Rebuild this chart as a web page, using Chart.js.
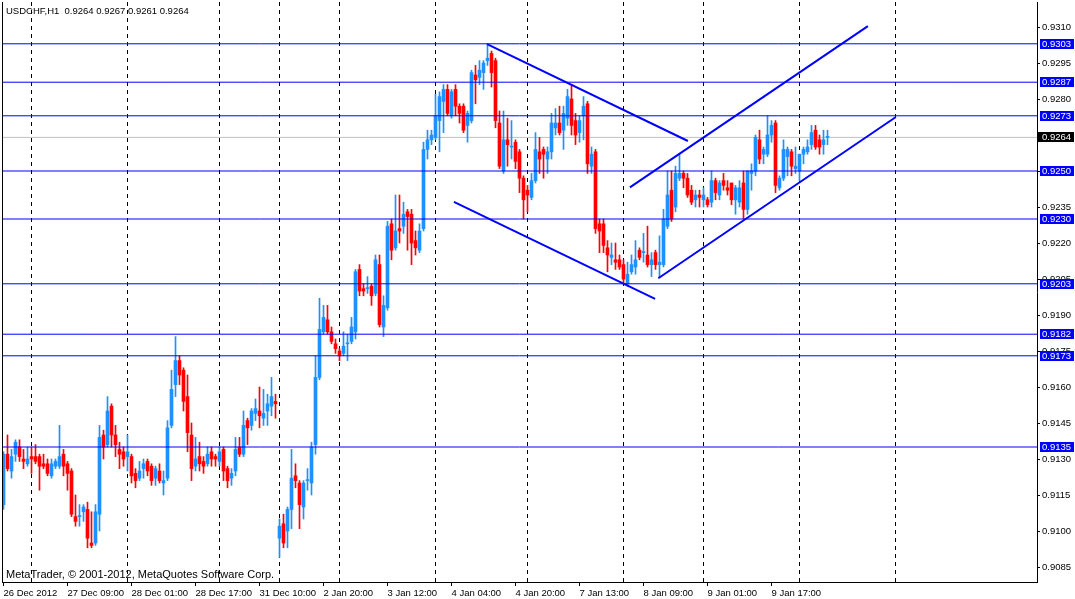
<!DOCTYPE html>
<html><head><meta charset="utf-8">
<script src="https://cdn.jsdelivr.net/npm/chart.js@4.4.1/dist/chart.umd.min.js"></script>
<style>html,body{margin:0;padding:0;background:#fff;overflow:hidden}canvas{display:block}</style>
</head><body>
<canvas id="c" width="1075" height="599"></canvas>
<script>
const symbol = 'USDCHF,H1';
const watermark = 'MetaTrader, \u00A9 2001-2012, MetaQuotes Software Corp.';

const opens = [0.9111,0.9132,0.9125,0.9132,0.9135,0.9130,0.9128,0.9131,0.9131,0.9131,
0.9128,0.9128,0.9123,0.9127,0.9127,0.9132,0.9128,0.9125,0.9106,0.9106,
0.9108,0.9109,0.9095,0.9095,0.9107,0.9140,0.9136,0.9152,0.9140,0.9134,
0.9133,0.9131,0.9131,0.9124,0.9122,0.9126,0.9129,0.9127,0.9122,0.9125,
0.9120,0.9122,0.9144,0.9161,0.9171,0.9167,0.9156,0.9140,0.9127,0.9131,
0.9129,0.9128,0.9133,0.9131,0.9129,0.9134,0.9126,0.9122,0.9125,0.9135,
0.9132,0.9146,0.9144,0.9149,0.9150,0.9147,0.9150,0.9152,0.9154,0.9097,
0.9103,0.9100,0.9109,0.9123,0.9120,0.9110,0.9121,0.9120,0.9136,0.9164,
0.9183,0.9188,0.9183,0.9178,0.9175,0.9174,0.9178,0.9179,0.9183,0.9209,
0.9201,0.9201,0.9202,0.9199,0.9211,0.9185,0.9193,0.9228,0.9218,0.9226,
0.9227,0.9233,0.9232,0.9221,0.9217,0.9226,0.9259,0.9263,0.9264,0.9271,
0.9279,0.9284,0.9273,0.9284,0.9277,0.9277,0.9269,0.9271,0.9290,0.9289,
0.9291,0.9296,0.9299,0.9296,0.9270,0.9250,0.9263,0.9260,0.9262,0.9258,
0.9247,0.9242,0.9239,0.9246,0.9258,0.9259,0.9255,0.9258,0.9268,0.9270,
0.9267,0.9272,0.9280,0.9271,0.9266,0.9273,0.9278,0.9252,0.9258,0.9228,
0.9228,0.9218,0.9214,0.9213,0.9213,0.9211,0.9203,0.9208,0.9210,0.9217,
0.9216,0.9215,0.9211,0.9216,0.9211,0.9211,0.9227,0.9242,0.9235,0.9247,
0.9249,0.9247,0.9242,0.9238,0.9240,0.9238,0.9238,0.9237,0.9246,0.9240,
0.9246,0.9243,0.9245,0.9238,0.9237,0.9245,0.9234,0.9249,0.9250,0.9263,
0.9257,0.9257,0.9265,0.9270,0.9243,0.9247,0.9256,0.9258,0.9251,0.9250,
0.9257,0.9258,0.9261,0.9267,0.9263,0.9261,0.9264];

const highs = [0.9133,0.9140,0.9134,0.9138,0.9138,0.9134,0.9135,0.9135,0.9136,0.9132,
0.9132,0.9130,0.9130,0.9130,0.9144,0.9134,0.9129,0.9126,0.9115,0.9111,
0.9111,0.9112,0.9108,0.9111,0.9144,0.9142,0.9156,0.9153,0.9144,0.9137,
0.9135,0.9140,0.9132,0.9126,0.9129,0.9130,0.9130,0.9128,0.9127,0.9128,
0.9125,0.9146,0.9167,0.9181,0.9173,0.9168,0.9165,0.9145,0.9139,0.9137,
0.9131,0.9135,0.9135,0.9132,0.9135,0.9135,0.9127,0.9126,0.9139,0.9139,
0.9150,0.9147,0.9151,0.9155,0.9160,0.9159,0.9157,0.9164,0.9157,0.9105,
0.9107,0.9110,0.9134,0.9128,0.9121,0.9121,0.9126,0.9137,0.9173,0.9197,
0.9194,0.9194,0.9185,0.9180,0.9176,0.9183,0.9182,0.9189,0.9209,0.9211,
0.9203,0.9206,0.9203,0.9215,0.9215,0.9198,0.9229,0.9230,0.9240,0.9240,
0.9237,0.9234,0.9234,0.9225,0.9228,0.9262,0.9267,0.9267,0.9282,0.9283,
0.9286,0.9286,0.9284,0.9286,0.9278,0.9278,0.9275,0.9292,0.9294,0.9296,
0.9296,0.9303,0.9300,0.9297,0.9275,0.9275,0.9272,0.9271,0.9263,0.9259,
0.9248,0.9244,0.9249,0.9266,0.9264,0.9260,0.9260,0.9274,0.9276,0.9277,
0.9277,0.9284,0.9286,0.9274,0.9273,0.9281,0.9279,0.9260,0.9259,0.9230,
0.9230,0.9221,0.9220,0.9220,0.9215,0.9213,0.9212,0.9215,0.9221,0.9218,
0.9224,0.9227,0.9216,0.9217,0.9223,0.9234,0.9250,0.9250,0.9252,0.9257,
0.9250,0.9249,0.9244,0.9242,0.9242,0.9243,0.9239,0.9250,0.9247,0.9246,
0.9249,0.9246,0.9245,0.9244,0.9246,0.9250,0.9250,0.9253,0.9265,0.9267,
0.9260,0.9273,0.9271,0.9271,0.9248,0.9263,0.9260,0.9259,0.9260,0.9257,
0.9260,0.9263,0.9269,0.9269,0.9265,0.9267,0.9267];

const lows = [0.9109,0.9125,0.9122,0.9129,0.9129,0.9126,0.9127,0.9124,0.9128,0.9117,
0.9126,0.9123,0.9122,0.9126,0.9126,0.9123,0.9117,0.9106,0.9102,0.9102,
0.9104,0.9093,0.9093,0.9094,0.9100,0.9130,0.9135,0.9135,0.9131,0.9126,
0.9127,0.9125,0.9120,0.9118,0.9121,0.9122,0.9123,0.9119,0.9119,0.9120,
0.9115,0.9121,0.9143,0.9156,0.9161,0.9150,0.9133,0.9121,0.9125,0.9125,
0.9124,0.9127,0.9127,0.9127,0.9127,0.9121,0.9118,0.9119,0.9123,0.9131,
0.9131,0.9136,0.9142,0.9146,0.9143,0.9144,0.9144,0.9148,0.9147,0.9089,
0.9093,0.9093,0.9101,0.9118,0.9101,0.9105,0.9117,0.9115,0.9132,0.9163,
0.9182,0.9182,0.9178,0.9174,0.9171,0.9173,0.9171,0.9178,0.9180,0.9198,
0.9198,0.9199,0.9194,0.9198,0.9185,0.9181,0.9192,0.9213,0.9217,0.9220,
0.9224,0.9217,0.9211,0.9215,0.9216,0.9225,0.9255,0.9261,0.9263,0.9258,
0.9266,0.9273,0.9272,0.9273,0.9270,0.9266,0.9262,0.9270,0.9278,0.9286,
0.9284,0.9294,0.9285,0.9268,0.9251,0.9249,0.9252,0.9255,0.9251,0.9241,
0.9230,0.9233,0.9238,0.9245,0.9249,0.9247,0.9249,0.9255,0.9265,0.9265,
0.9259,0.9269,0.9265,0.9261,0.9262,0.9263,0.9249,0.9249,0.9224,0.9216,
0.9216,0.9208,0.9211,0.9209,0.9209,0.9203,0.9202,0.9207,0.9207,0.9213,
0.9212,0.9210,0.9206,0.9209,0.9206,0.9210,0.9226,0.9229,0.9233,0.9246,
0.9243,0.9239,0.9236,0.9235,0.9235,0.9235,0.9235,0.9235,0.9238,0.9238,
0.9242,0.9240,0.9236,0.9232,0.9235,0.9230,0.9232,0.9242,0.9248,0.9253,
0.9253,0.9256,0.9262,0.9241,0.9242,0.9246,0.9248,0.9248,0.9249,0.9246,
0.9253,0.9257,0.9259,0.9259,0.9257,0.9257,0.9261];

const closes = [0.9132,0.9126,0.9131,0.9137,0.9131,0.9129,0.9130,0.9130,0.9129,0.9127,
0.9127,0.9124,0.9128,0.9129,0.9131,0.9127,0.9124,0.9107,0.9104,0.9106,
0.9110,0.9097,0.9094,0.9108,0.9139,0.9135,0.9150,0.9140,0.9136,0.9132,
0.9130,0.9133,0.9123,0.9121,0.9125,0.9128,0.9125,0.9121,0.9126,0.9121,
0.9121,0.9143,0.9159,0.9171,0.9165,0.9154,0.9141,0.9126,0.9130,0.9128,
0.9127,0.9132,0.9130,0.9130,0.9133,0.9125,0.9121,0.9124,0.9134,0.9132,
0.9144,0.9143,0.9150,0.9151,0.9148,0.9149,0.9153,0.9156,0.9153,0.9102,
0.9095,0.9109,0.9122,0.9121,0.9111,0.9120,0.9121,0.9135,0.9164,0.9184,
0.9189,0.9183,0.9179,0.9176,0.9173,0.9177,0.9178,0.9185,0.9208,0.9200,
0.9200,0.9201,0.9198,0.9213,0.9186,0.9194,0.9227,0.9217,0.9225,0.9225,
0.9232,0.9231,0.9220,0.9218,0.9225,0.9259,0.9263,0.9265,0.9273,0.9281,
0.9284,0.9274,0.9283,0.9277,0.9274,0.9267,0.9274,0.9291,0.9288,0.9292,
0.9295,0.9297,0.9291,0.9271,0.9252,0.9263,0.9261,0.9260,0.9254,0.9247,
0.9238,0.9240,0.9246,0.9259,0.9255,0.9257,0.9258,0.9270,0.9270,0.9266,
0.9274,0.9281,0.9269,0.9265,0.9271,0.9277,0.9253,0.9257,0.9226,0.9225,
0.9219,0.9215,0.9215,0.9212,0.9210,0.9205,0.9207,0.9211,0.9213,0.9214,
0.9216,0.9211,0.9213,0.9211,0.9212,0.9230,0.9240,0.9230,0.9249,0.9249,
0.9247,0.9240,0.9237,0.9240,0.9239,0.9240,0.9236,0.9246,0.9241,0.9245,
0.9244,0.9242,0.9238,0.9243,0.9243,0.9234,0.9250,0.9250,0.9264,0.9255,
0.9259,0.9265,0.9269,0.9244,0.9247,0.9259,0.9259,0.9252,0.9252,0.9257,
0.9259,0.9260,0.9266,0.9260,0.9260,0.9263,0.9264];

const timeTickIndex = [0,16,32,48,64,80,96,112,128,144,160,176,192];
const timeTickLabels = ['26 Dec 2012','27 Dec 09:00','28 Dec 01:00','28 Dec 17:00','31 Dec 10:00',
  '2 Jan 20:00','3 Jan 12:00','4 Jan 04:00','4 Jan 20:00','7 Jan 13:00','8 Jan 09:00','9 Jan 01:00','9 Jan 17:00'];
const daySeparators = [7,31,54,69,84,108,131,155,175,199,223];
const priceTicks = [0.9085,0.9100,0.9115,0.9130,0.9145,0.9160,0.9175,0.9190,0.9205,0.9220,0.9235,0.9250,0.9265,0.9280,0.9295,0.9310];
const levels = [0.9303,0.9287,0.9273,0.9250,0.9230,0.9203,0.9182,0.9173,0.9135];
const bidPrice = 0.9264;
const trendStartIdx   = [120.9, 112.6, 156.6, 163.7];
const trendStartPrice = [0.93029, 0.92371, 0.92432, 0.92053];
const trendEndIdx     = [171.1, 162.9, 216.1, 223.1];
const trendEndPrice   = [0.92625, 0.91967, 0.93104, 0.92725];

const X_MIN = -0.375, X_MAX = 258.375;
const Y_MIN = 0.907875, Y_MAX = 0.932042;
const UP = '#1E90FF', DOWN = '#FF0000', LINE = '#0000FF';
const FONT = '"Liberation Sans", Arial, sans-serif';

Chart.defaults.font.family = FONT;
Chart.defaults.color = '#000';

const idx = opens.map((_, i) => i);
const candleColor = c => (closes[c.dataIndex] >= opens[c.dataIndex] ? UP : DOWN);

const datasets = [];
levels.forEach(v => datasets.push({
  type: 'line', data: [{x: X_MIN, y: v}, {x: X_MAX, y: v}],
  borderColor: LINE, borderWidth: 1, pointRadius: 0, fill: false, order: 0,
  xAxisID: 'x', yAxisID: 'y'
}));
trendStartIdx.forEach((s, k) => datasets.push({
  type: 'line', data: [{x: s, y: trendStartPrice[k]}, {x: trendEndIdx[k], y: trendEndPrice[k]}],
  borderColor: LINE, borderWidth: 2, pointRadius: 0, fill: false, order: 0,
  xAxisID: 'x', yAxisID: 'y'
}));
datasets.push({
  type: 'bar', data: idx.map(i => ({x: i, y: [opens[i], closes[i]]})),
  backgroundColor: candleColor, borderWidth: 0, barThickness: 3, minBarLength: 1,
  grouped: false, order: 1, xAxisID: 'x', yAxisID: 'y'
});
datasets.push({
  type: 'bar', data: idx.map(i => ({x: i, y: [lows[i], highs[i]]})),
  backgroundColor: candleColor, borderWidth: 0, barThickness: 1,
  grouped: false, order: 2, xAxisID: 'x', yAxisID: 'y'
});
datasets.push({
  type: 'line', data: [{x: X_MIN, y: bidPrice}, {x: X_MAX, y: bidPrice}],
  borderColor: '#C0C0C0', borderWidth: 1, pointRadius: 0, fill: false, order: 3,
  xAxisID: 'x', yAxisID: 'y'
});

const overlay = {
  id: 'overlay',
  afterDraw(chart) {
    const {ctx, chartArea: a, scales: {y}} = chart;
    ctx.save();
    ctx.strokeStyle = '#000'; ctx.lineWidth = 1;
    ctx.beginPath(); ctx.moveTo(a.left + 0.5, a.top); ctx.lineTo(a.left + 0.5, a.bottom); ctx.stroke();
    ctx.fillStyle = '#000'; ctx.textAlign = 'left'; ctx.textBaseline = 'alphabetic';
    const n = opens.length - 1;
    ctx.font = '9.5px ' + FONT;
    ctx.fillText(symbol + '  ' + opens[n].toFixed(4) + ' ' + highs[n].toFixed(4) + ' ' + lows[n].toFixed(4) + ' ' + closes[n].toFixed(4), 6, 14);
    ctx.font = '11px ' + FONT;
    ctx.fillText(watermark, 6, 578);
    ctx.font = '9.5px ' + FONT; ctx.textBaseline = 'middle';
    levels.forEach(v => {
      const py = Math.round(y.getPixelForValue(v));
      ctx.fillStyle = LINE; ctx.fillRect(a.right + 3, py - 5, 34, 10);
      ctx.fillStyle = '#fff'; ctx.fillText(v.toFixed(4), a.right + 5, py + 0.5);
    });
    const pb = Math.round(y.getPixelForValue(bidPrice));
    ctx.fillStyle = '#000'; ctx.fillRect(a.right + 1, pb - 5, 36, 10);
    ctx.fillStyle = '#fff'; ctx.fillText(bidPrice.toFixed(4), a.right + 5, pb + 0.5);
    ctx.restore();
  }
};

new Chart(document.getElementById('c'), {
  type: 'bar',
  data: {datasets},
  plugins: [overlay],
  options: {
    responsive: false, animation: false, devicePixelRatio: 1, events: [],
    layout: {padding: {left: 2, top: 2, right: 0, bottom: 0}},
    plugins: {legend: {display: false}, tooltip: {enabled: false}, title: {display: false}},
    scales: {
      x: {
        type: 'linear', axis: 'x', position: 'bottom', min: X_MIN, max: X_MAX, offset: false, bounds: 'data',
        grid: {display: true, offset: false, drawOnChartArea: false, drawTicks: true, tickLength: 4, tickColor: '#000', color: '#000'},
        border: {display: true, color: '#000', width: 1},
        ticks: {align: 'start', autoSkip: false, maxRotation: 0, minRotation: 0, padding: 2, color: '#000',
          font: {size: 9.5, family: FONT},
          callback: v => { const k = timeTickIndex.indexOf(v); return k >= 0 ? timeTickLabels[k] : ''; }},
        afterBuildTicks: s => { s.ticks = timeTickIndex.map(v => ({value: v})); },
        afterFit: s => { s.height = 17; s.paddingLeft = 0; s.paddingRight = 0; }
      },
      xs: {
        type: 'linear', axis: 'x', position: 'bottom', min: X_MIN, max: X_MAX, offset: false, bounds: 'data',
        grid: {display: true, offset: false, drawOnChartArea: true, drawTicks: false, color: '#000', lineWidth: 1},
        border: {display: false, dash: [4, 4]},
        ticks: {display: false},
        afterBuildTicks: s => { s.ticks = daySeparators.map(v => ({value: v})); },
        afterFit: s => { s.height = 0; s.paddingLeft = 0; s.paddingRight = 0; }
      },
      y: {
        type: 'linear', axis: 'y', position: 'right', min: Y_MIN, max: Y_MAX, bounds: 'data',
        grid: {display: true, drawOnChartArea: false, drawTicks: true, tickLength: 3, tickColor: '#000', color: '#000'},
        border: {display: true, color: '#000', width: 1},
        ticks: {autoSkip: false, padding: 2, color: '#000', font: {size: 9.5, family: FONT},
          callback: v => Number(v).toFixed(4)},
        afterBuildTicks: s => { s.ticks = priceTicks.map(v => ({value: v})); },
        afterFit: s => { s.width = 38; s.paddingTop = 0; s.paddingBottom = 0; }
      }
    }
  }
});
</script>
</body></html>
